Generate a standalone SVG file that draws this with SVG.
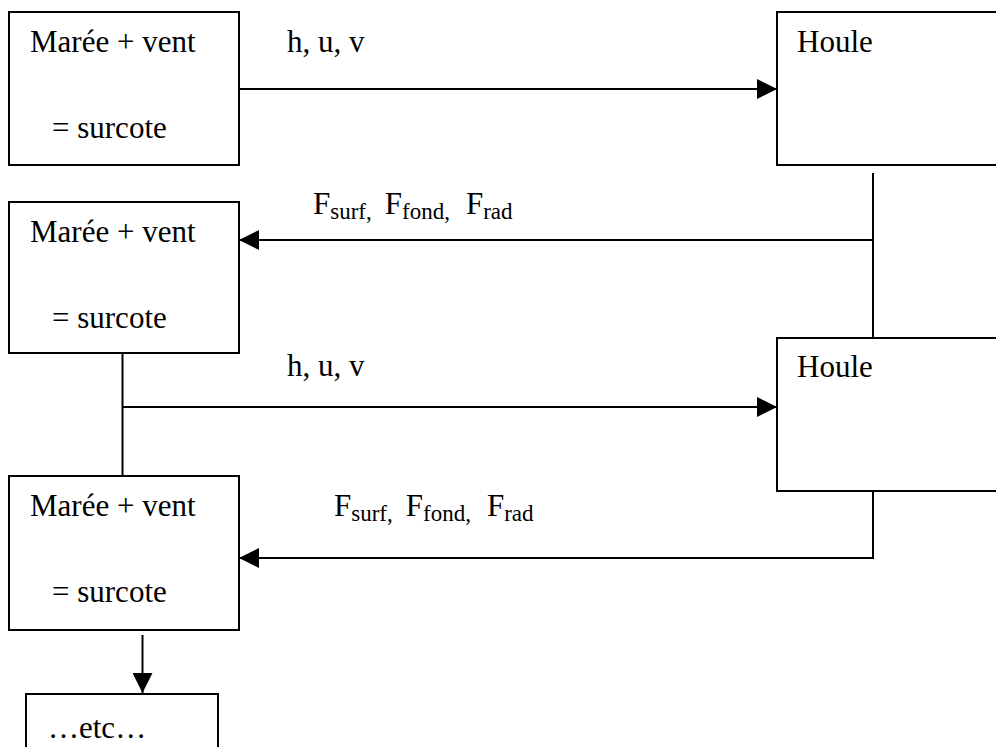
<svg xmlns="http://www.w3.org/2000/svg" width="996" height="747" viewBox="0 0 996 747">
<style>
.box{fill:#fff;stroke:#000;stroke-width:2}
text{font-family:'Liberation Serif','DejaVu Serif',serif;font-size:31px;fill:#000}
.sub{font-size:23px}
.c{fill:none;stroke:#000;stroke-width:2}
</style>
<defs>
<marker id="ah" markerUnits="userSpaceOnUse" markerWidth="20" markerHeight="20" refX="20" refY="10" orient="auto" viewBox="0 0 20 20">
<path d="M0,0 L20,10 L0,20 z" fill="#000"/>
</marker>
</defs>
<rect width="996" height="747" fill="#fff"/>
<g id="connectors">
<line class="c" x1="239" y1="89" x2="777" y2="89" marker-end="url(#ah)"/>
<line class="c" x1="873" y1="173" x2="873" y2="338"/>
<line class="c" x1="873" y1="240" x2="239" y2="240" marker-end="url(#ah)"/>
<line class="c" x1="122.5" y1="347" x2="122.5" y2="476"/>
<line class="c" x1="122.5" y1="407" x2="777" y2="407" marker-end="url(#ah)"/>
<polyline class="c" points="873,481 873,558 239,558" marker-end="url(#ah)"/>
<line class="c" x1="142.5" y1="635" x2="142.5" y2="693" marker-end="url(#ah)"/>
</g>
<g id="label-huv-1"><text x="287" y="52" font-family="Liberation Serif, serif">h, u, v</text></g>
<g id="label-f-1"><text x="313" y="214" font-family="Liberation Serif, serif">F<tspan class="sub" dy="5">surf,</tspan><tspan dx="13" dy="-5">F</tspan><tspan class="sub" dy="5">fond,</tspan><tspan dx="16" dy="-5">F</tspan><tspan class="sub" dy="5">rad</tspan></text></g>
<g id="label-huv-2"><text x="287" y="376" font-family="Liberation Serif, serif">h, u, v</text></g>
<g id="label-f-2"><text x="334" y="516" font-family="Liberation Serif, serif">F<tspan class="sub" dy="5">surf,</tspan><tspan dx="13" dy="-5">F</tspan><tspan class="sub" dy="5">fond,</tspan><tspan dx="16" dy="-5">F</tspan><tspan class="sub" dy="5">rad</tspan></text></g>
<g id="maree1">
<rect class="box" x="9" y="12" width="230" height="153"/>
<text x="30" y="52" font-family="Liberation Serif, serif">Marée + vent</text>
<text x="52" y="138" font-family="Liberation Serif, serif">= surcote</text>
</g>
<g id="houle1">
<rect class="box" x="777" y="12" width="240" height="153"/>
<text x="797" y="52" font-family="Liberation Serif, serif">Houle</text>
</g>
<g id="maree2">
<rect class="box" x="9" y="202" width="230" height="151"/>
<text x="30" y="242" font-family="Liberation Serif, serif">Marée + vent</text>
<text x="52" y="328" font-family="Liberation Serif, serif">= surcote</text>
</g>
<g id="houle2">
<rect class="box" x="777" y="338" width="240" height="153"/>
<text x="797" y="377" font-family="Liberation Serif, serif">Houle</text>
</g>
<g id="maree3">
<rect class="box" x="9" y="476" width="230" height="154"/>
<text x="30" y="516" font-family="Liberation Serif, serif">Marée + vent</text>
<text x="52" y="602" font-family="Liberation Serif, serif">= surcote</text>
</g>
<g id="etc">
<rect class="box" x="26" y="694" width="192" height="80"/>
<text x="48" y="738" font-family="Liberation Serif, serif">…etc…</text>
</g>
</svg>
